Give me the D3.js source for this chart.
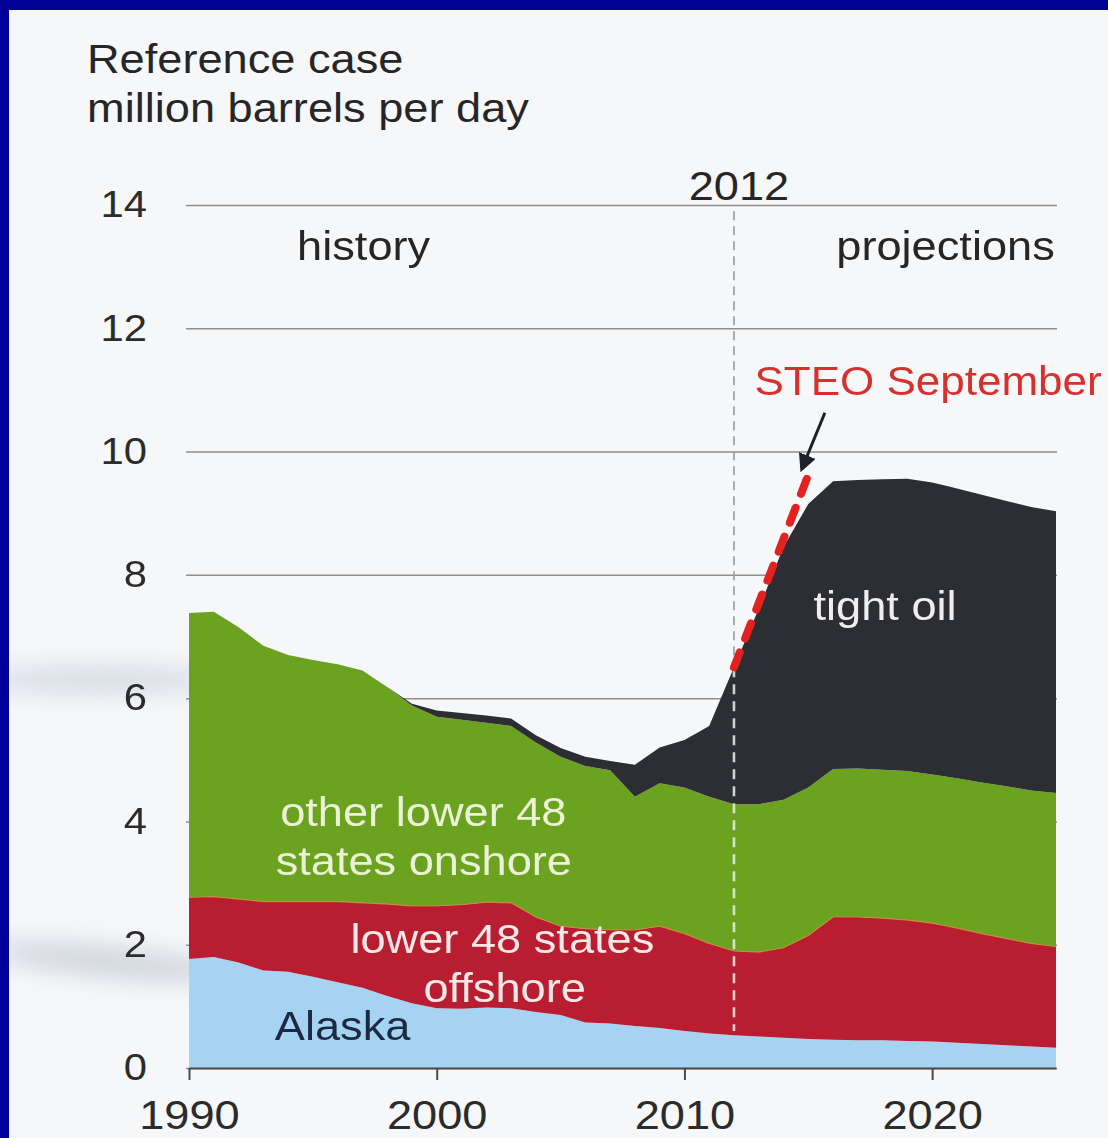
<!DOCTYPE html>
<html>
<head>
<meta charset="utf-8">
<script src="https://cdn.jsdelivr.net/npm/d3@7"></script>
<style>
  body { margin: 0; background: #000099; }
  svg { display: block; }
</style>
</head>
<body>
<svg></svg>
<script>
const width = 1108;
const height = 1138;

// years on the x axis (history to 2012, projections after)
const years = [1990, 1991, 1992, 1993, 1994, 1995, 1996, 1997, 1998, 1999,
               2000, 2001, 2002, 2003, 2004, 2005, 2006, 2007, 2008, 2009,
               2010, 2011, 2012, 2013, 2014, 2015, 2016, 2017, 2018, 2019,
               2020, 2021, 2022, 2023, 2024, 2025];

// million barrels per day
const alaska = [1.77, 1.80, 1.71, 1.58, 1.56, 1.48, 1.39, 1.30, 1.17, 1.05,
                0.97, 0.96, 0.98, 0.97, 0.91, 0.86, 0.74, 0.72, 0.68, 0.65,
                0.60, 0.56, 0.53, 0.51, 0.49, 0.47, 0.46, 0.45, 0.45, 0.44,
                0.43, 0.41, 0.39, 0.37, 0.35, 0.33];
const offshore = [1.00, 0.98, 1.03, 1.12, 1.14, 1.22, 1.31, 1.38, 1.49, 1.58,
                  1.66, 1.69, 1.71, 1.71, 1.54, 1.44, 1.52, 1.52, 1.56, 1.65,
                  1.58, 1.46, 1.37, 1.37, 1.46, 1.68, 1.99, 2.00, 1.98, 1.96,
                  1.92, 1.86, 1.79, 1.73, 1.67, 1.64];
const onshore = [4.61, 4.62, 4.41, 4.15, 4.00, 3.92, 3.85, 3.77, 3.52, 3.25,
                 3.07, 3.00, 2.91, 2.87, 2.83, 2.75, 2.64, 2.59, 2.16, 2.32,
                 2.37, 2.38, 2.38, 2.40, 2.40, 2.40, 2.40, 2.41, 2.41, 2.42,
                 2.41, 2.43, 2.45, 2.47, 2.48, 2.49];
const tightOil = [0.00, 0.00, 0.00, 0.00, 0.00, 0.00, 0.00, 0.00, 0.00, 0.03,
                  0.10, 0.11, 0.12, 0.12, 0.12, 0.14, 0.15, 0.15, 0.52, 0.58,
                  0.77, 1.15, 2.22, 3.17, 4.10, 4.60, 4.67, 4.68, 4.71, 4.74,
                  4.74, 4.70, 4.67, 4.63, 4.60, 4.57];

// STEO September line (total production)
const steoYears = [2012, 2015];
const steoValues = [6.50, 9.62];

const seriesKeys = ["alaska", "offshore", "onshore", "tight"];
const seriesColors = ["#a6d3f1", "#b81d31", "#6ba21f", "#2c2e33"];

const yTicks = [0, 2, 4, 6, 8, 10, 12, 14];
const xTicks = [1990, 2000, 2010, 2020];

const font = "'Liberation Sans', Arial, Helvetica, sans-serif";
const stretch = 1.13;

const table = years.map((yr, i) => ({
  year: yr, alaska: alaska[i], offshore: offshore[i],
  onshore: onshore[i], tight: tightOil[i]
}));

const x = d3.scaleLinear().domain([1990, 2025]).range([189, 1056]);
const y = d3.scaleLinear().domain([0, 14]).range([1068, 205]);

const svg = d3.select('svg')
  .attr('width', width)
  .attr('height', height);

// slide background with the blue frame
const defs = svg.append('defs');
defs.append('filter').attr('id', 'blur')
  .attr('x', '-50%').attr('y', '-50%').attr('width', '200%').attr('height', '200%')
  .append('feGaussianBlur').attr('stdDeviation', 12);
defs.append('clipPath').attr('id', 'inner')
  .append('rect').attr('x', 9).attr('y', 10).attr('width', width - 9).attr('height', height - 10);
defs.append('marker')
  .attr('id', 'arrowhead')
  .attr('viewBox', '0 0 10 10')
  .attr('refX', 8).attr('refY', 5)
  .attr('markerWidth', 6).attr('markerHeight', 6)
  .attr('markerUnits', 'strokeWidth')
  .attr('orient', 'auto')
  .append('path').attr('d', 'M0,0 L10,5 L0,10 z').attr('fill', '#1e2226');

svg.append('rect')
  .attr('width', width).attr('height', height)
  .attr('fill', '#000099');
svg.append('rect')
  .attr('x', 9).attr('y', 10)
  .attr('width', width - 9).attr('height', height - 10)
  .attr('fill', '#f6f7f9');

// faint scanner smudges, kept inside the frame
const smudges = svg.append('g').attr('clip-path', 'url(#inner)')
  .append('g').attr('filter', 'url(#blur)').attr('opacity', 0.5);
smudges.append('ellipse').attr('cx', 100).attr('cy', 680).attr('rx', 120).attr('ry', 14).attr('fill', '#b9c3d2');
smudges.append('ellipse').attr('cx', 110).attr('cy', 962).attr('rx', 120).attr('ry', 15)
  .attr('fill', '#a9b2bf').attr('transform', 'rotate(6,110,962)');

// gridlines + y labels
const yAxis = svg.append('g')
  .attr('transform', 'translate(186,0)')
  .call(d3.axisLeft(y).tickValues(yTicks).tickSize(-(1057 - 186)).tickPadding(34.5));
yAxis.select('.domain').remove();
yAxis.selectAll('.tick line')
  .attr('stroke', '#8f8f8f')
  .attr('stroke-width', 1.5);
yAxis.selectAll('.tick text')
  .attr('font-family', font)
  .attr('font-size', 37)
  .attr('fill', '#2b2b2b')
  .attr('transform', `scale(${stretch},1)`);

// 2012 divider (grey part above the areas)
svg.append('line')
  .attr('x1', x(2012)).attr('x2', x(2012))
  .attr('y1', y(13.9)).attr('y2', y(0.6))
  .attr('stroke', '#9a9a9a')
  .attr('stroke-width', 1.6)
  .attr('stroke-dasharray', '9 6');

// stacked areas
const stack = d3.stack().keys(seriesKeys);
const layers = stack(table);

const area = d3.area()
  .x(d => x(d.data.year))
  .y0(d => y(d[0]))
  .y1(d => y(d[1]));

svg.append('g')
  .selectAll('path')
  .data(layers)
  .enter().append('path')
    .attr('d', area)
    .attr('fill', (d, i) => seriesColors[i]);

// thin orange seam between offshore and onshore
svg.append('path')
  .datum(layers[1])
  .attr('d', d3.line().x(d => x(d.data.year)).y(d => y(d[1])))
  .attr('fill', 'none')
  .attr('stroke', '#d08a3a')
  .attr('stroke-width', 1.2)
  .attr('opacity', 0.8);

// 2012 divider over the areas (light dashes)
const top2012 = layers[3][years.indexOf(2012)][1];
svg.append('line')
  .attr('x1', x(2012)).attr('x2', x(2012))
  .attr('y1', y(top2012)).attr('y2', y(0.6))
  .attr('stroke', '#e9efe6')
  .attr('stroke-width', 2.6)
  .attr('stroke-dasharray', '10 7')
  .attr('opacity', 0.85);

// x axis
const xAxis = svg.append('g')
  .attr('transform', `translate(0,${y(0)})`)
  .call(d3.axisBottom(x).tickValues(xTicks).tickFormat(d3.format('d'))
    .tickSize(12).tickSizeOuter(0).tickPadding(21));
xAxis.select('.domain')
  .attr('stroke', '#4a4a4a')
  .attr('stroke-width', 2);
xAxis.selectAll('.tick line')
  .attr('stroke', '#4a4a4a')
  .attr('stroke-width', 2);
xAxis.selectAll('.tick text')
  .attr('font-family', font)
  .attr('font-size', 40)
  .attr('fill', '#2b2b2b')
  .attr('transform', `scale(${stretch},1)`)
  .attr('x', 0);

// STEO September dashed red line
svg.append('path')
  .datum(steoYears.map((yr, i) => [yr, steoValues[i]]))
  .attr('d', d3.line().x(d => x(d[0])).y(d => y(d[1])))
  .attr('fill', 'none')
  .attr('stroke', '#e3211f')
  .attr('stroke-width', 8)
  .attr('stroke-linecap', 'round')
  .attr('stroke-dasharray', '16 15');

// arrow pointing to the STEO line
svg.append('line')
  .attr('x1', x(2015.67)).attr('y1', y(10.63))
  .attr('x2', x(2014.74)).attr('y2', y(9.72))
  .attr('stroke', '#1e2226')
  .attr('stroke-width', 3)
  .attr('marker-end', 'url(#arrowhead)');

// text labels, anchored in data space
const labels = [
  { text: "other lower 48", year: 1999.46, value: 3.93, color: "#ecf2d6", anchor: "middle", sx: stretch },
  { text: "states onshore", year: 1999.48, value: 3.13, color: "#ecf2d6", anchor: "middle", sx: stretch },
  { text: "lower 48 states", year: 2002.65, value: 1.87, color: "#f7e9e6", anchor: "middle", sx: stretch },
  { text: "offshore", year: 2002.74, value: 1.07, color: "#f7e9e6", anchor: "middle", sx: stretch },
  { text: "Alaska", year: 1996.2, value: 0.45, color: "#1b2a42", anchor: "middle", sx: stretch },
  { text: "tight oil", year: 2018.1, value: 7.27, color: "#eeeeee", anchor: "middle", sx: stretch },
  { text: "history", year: 1997.05, value: 13.1, color: "#262626", anchor: "middle", sx: stretch },
  { text: "projections", year: 2020.54, value: 13.1, color: "#262626", anchor: "middle", sx: stretch },
  { text: "2012", year: 2012.2, value: 14.08, color: "#262626", anchor: "middle", sx: stretch },
  { text: "STEO September", year: 2012.83, value: 10.92, color: "#d8302c", anchor: "start", sx: 1.1 }
];

svg.append('g')
  .selectAll('text')
  .data(labels)
  .enter().append('text')
    .text(d => d.text)
    .attr('transform', d => `translate(${x(d.year)},${y(d.value)}) scale(${d.sx},1)`)
    .attr('text-anchor', d => d.anchor)
    .attr('font-family', font)
    .attr('font-size', 40)
    .attr('fill', d => d.color);

// unit title
const title = svg.append('g').attr('font-family', font).attr('font-size', 40).attr('fill', '#262626');
title.append('text').text('Reference case')
  .attr('transform', `translate(87,73) scale(${stretch},1)`);
title.append('text').text('million barrels per day')
  .attr('transform', `translate(87,122) scale(${stretch},1)`);
</script>
</body>
</html>
